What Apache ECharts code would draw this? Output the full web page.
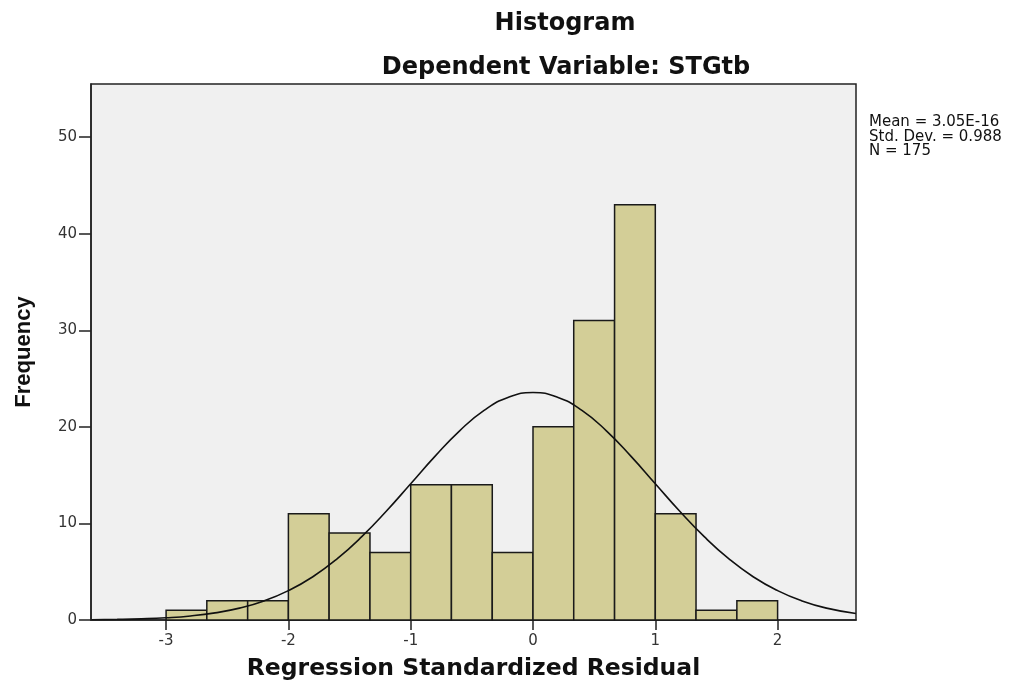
<!DOCTYPE html>
<html>
<head>
<meta charset="utf-8">
<title>Histogram</title>
<script src="https://cdn.jsdelivr.net/npm/echarts@6/dist/echarts.min.js"></script>
<style>
  html, body { margin: 0; padding: 0; background: #ffffff; }
  #chart { width: 1026px; height: 686px; }
</style>
</head>
<body>
<div id="chart"></div>
<script>
// histogram bins (left edge, right edge) and counts
const binStart = [-3, -2.667, -2.333, -2, -1.667, -1.333, -1, -0.667, -0.333, 0, 0.333, 0.667, 1, 1.333, 1.667]
const binEnd = [-2.667, -2.333, -2, -1.667, -1.333, -1, -0.667, -0.333, 0, 0.333, 0.667, 1, 1.333, 1.667, 2]
const counts = [1, 2, 2, 11, 9, 7, 14, 14, 7, 20, 31, 43, 11, 1, 2]

// normal curve
const curveX = [-3.61, -3.4, -3.2, -3.0, -2.8, -2.6, -2.4, -2.2, -2.0, -1.8, -1.6, -1.4, -1.2, -1.0, -0.8, -0.6, -0.4, -0.2, 0,
  0.2, 0.4, 0.6, 0.8, 1.0, 1.2, 1.4, 1.6, 1.8, 2.0, 2.2, 2.4, 2.64]
const curveY = [0.03, 0.06, 0.12, 0.23, 0.42, 0.74, 1.23, 1.97, 3.04, 4.48, 6.35, 8.63, 11.26, 14.11, 16.97, 19.59, 21.7, 23.07, 23.55,
  23.07, 21.7, 19.59, 16.97, 14.11, 11.26, 8.63, 6.35, 4.48, 3.04, 1.97, 1.23, 0.67]

const xTicks = [-3, -2, -1, 0, 1, 2]
const yTicks = [0, 10, 20, 30, 40, 50]

const statsText = ['Mean = 3.05E-16', 'Std. Dev. = 0.988', 'N = 175']

const chart = echarts.init(document.getElementById('chart'))

const barData = binStart.map((s, i) => [s, binEnd[i], counts[i]])
const curveData = curveX.map((x, i) => [x, curveY[i]])

const option = {
  animation: false,
  backgroundColor: '#ffffff',
  grid: {
    left: 91,
    right: 170,
    top: 84,
    bottom: 65,
    show: true,
    backgroundColor: '#f0f0f0',
    borderColor: '#222',
    borderWidth: 1.5
  },
  graphic: [
    {
      type: 'text',
      x: 565,
      y: 24,
      style: {
        text: 'Histogram',
        font: 'bold 24px "DejaVu Sans"',
        fill: '#111',
        textAlign: 'center',
        align: 'center',
        textVerticalAlign: 'middle',
        verticalAlign: 'middle'
      }
    },
    {
      type: 'text',
      x: 566,
      y: 68,
      style: {
        text: 'Dependent Variable: STGtb',
        font: 'bold 24px "DejaVu Sans"',
        fill: '#111',
        textAlign: 'center',
        align: 'center',
        textVerticalAlign: 'middle',
        verticalAlign: 'middle'
      }
    },
    {
      type: 'text',
      x: 869,
      y: 115,
      style: {
        text: statsText.join('\n'),
        font: '15px "DejaVu Sans"',
        lineHeight: 14.5,
        fill: '#111',
        textAlign: 'left',
        align: 'left',
        textVerticalAlign: 'top',
        verticalAlign: 'top'
      }
    }
  ],
  xAxis: {
    type: 'value',
    min: -3.614,
    max: 2.641,
    name: 'Regression Standardized Residual',
    nameLocation: 'middle',
    nameGap: 37,
    nameTextStyle: {
      fontFamily: 'DejaVu Sans',
      fontWeight: 'bold',
      fontSize: 23.5,
      color: '#111'
    },
    axisLine: { show: true, onZero: false, lineStyle: { color: '#222', width: 1.5 } },
    axisTick: { show: true, length: 10, customValues: xTicks, lineStyle: { color: '#222', width: 1.5 } },
    axisLabel: {
      customValues: xTicks,
      margin: 14,
      fontFamily: 'DejaVu Sans',
      fontSize: 15,
      color: '#333'
    },
    splitLine: { show: false }
  },
  yAxis: {
    type: 'value',
    min: 0,
    max: 55.5,
    interval: 10,
    name: 'Frequency',
    nameLocation: 'middle',
    nameGap: 56,
    nameTextStyle: {
      fontFamily: 'Liberation Sans',
      fontWeight: 'bold',
      fontSize: 22,
      color: '#111'
    },
    axisLine: { show: true, onZero: false, lineStyle: { color: '#222', width: 1.5 } },
    axisTick: { show: true, length: 12, customValues: yTicks, lineStyle: { color: '#222', width: 1.5 } },
    axisLabel: {
      customValues: yTicks,
      margin: 14,
      fontFamily: 'DejaVu Sans',
      fontSize: 15,
      color: '#333'
    },
    splitLine: { show: false }
  },
  series: [
    {
      type: 'custom',
      data: barData,
      encode: { x: [0, 1], y: 2 },
      renderItem: (params, api) => {
        const p0 = api.coord([api.value(0), 0])
        const p1 = api.coord([api.value(1), api.value(2)])
        return {
          type: 'rect',
          shape: { x: p0[0], y: p1[1], width: p1[0] - p0[0], height: p0[1] - p1[1] },
          style: { fill: '#d3ce97', stroke: '#1a1a1a', lineWidth: 1.5 }
        }
      },
      z: 2
    },
    {
      type: 'line',
      data: curveData,
      smooth: true,
      showSymbol: false,
      lineStyle: { color: '#111', width: 1.6 },
      z: 3
    }
  ]
}

chart.setOption(option)
</script>
</body>
</html>
